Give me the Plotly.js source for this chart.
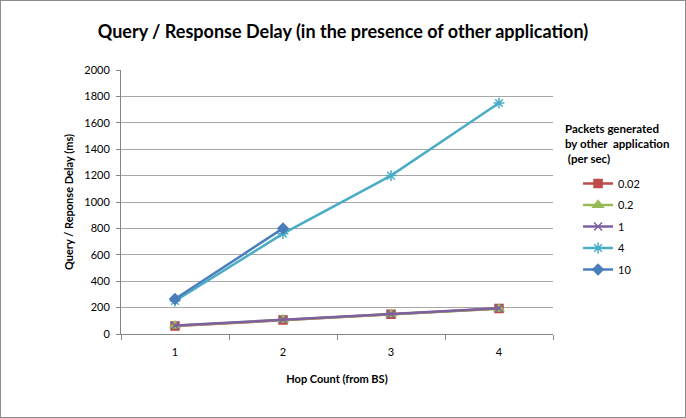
<!DOCTYPE html>
<html>
<head>
<meta charset="utf-8">
<script src="https://cdn.plot.ly/plotly-3.0.1.min.js"></script>
<style>
html,body{margin:0;padding:0;background:#fff;}
#chart{width:686px;height:418px;box-sizing:border-box;border:1px solid #8c8c8c;}
</style>
</head>
<body>
<div id="chart"></div>
<script>
const hopCounts = ['1', '2', '3', '4'];
const seriesNames = ['0.02', '0.2', '1', '4', '10'];
const s002 = [60, 106, 150, 193];
const s02 = [62, 108, 150, 192];
const s1 = [64, 110, 152, 195];
const s4 = [250, 760, 1200, 1750];
const s10 = [265, 800];
const seriesValues = [s002, s02, s1, s4, s10];

const colors = ['#BE4B48', '#98B954', '#7D60A0', '#4BACC6', '#4A7EBB'];
const symbols = ['square', 'triangle-up', 'x-thin-open', 'asterisk-open', 'diamond'];
const sizes = [8, 9, 8, 9, 8];

const traces = seriesNames.map((name, i) => ({
  type: 'scatter',
  mode: 'lines+markers',
  name: name,
  legendgroup: 'g' + i,
  x: hopCounts.slice(0, seriesValues[i].length),
  y: seriesValues[i],
  line: {color: colors[i], width: 2.5},
  marker: {symbol: symbols[i], size: sizes[i], color: colors[i], line: {color: colors[i], width: 1.5}}
}));

const font = 'Lato, "Liberation Sans", sans-serif';

const layout = {
  width: 684, height: 416,
  margin: {l: 120, r: 132, t: 69, b: 83},
  paper_bgcolor: '#fff', plot_bgcolor: '#fff',
  font: {family: font, size: 11, color: '#000'},
  title: {
    text: '<b>Query / Response Delay (in the presence of other application)</b>',
    font: {family: font, size: 18, color: '#000'},
    x: 0.5, xanchor: 'center', y: 0.926, yref: 'container', yanchor: 'middle'
  },
  xaxis: {
    type: 'category',
    range: [-0.5, 3.5],
    autorange: false,
    tickson: 'boundaries',
    ticks: 'outside', ticklen: 5, tickcolor: '#868686',
    ticklabelstandoff: 8,
    showline: true, linecolor: '#868686', linewidth: 1,
    showgrid: false, zeroline: false,
    tickfont: {family: font, size: 11},
    title: {text: '<b>Hop Count (from BS)</b>', font: {family: font, size: 11}, standoff: 18}
  },
  yaxis: {
    range: [0, 2000], dtick: 200,
    ticks: 'outside', ticklen: 4, tickcolor: '#868686',
    ticklabelstandoff: 4,
    showline: true, linecolor: '#868686', linewidth: 1,
    showgrid: true, gridcolor: '#A6A6A6', gridwidth: 1,
    zeroline: false,
    tickfont: {family: font, size: 11},
    title: {text: '<b>Query / Reponse Delay (ms)</b>', font: {family: font, size: 11}, standoff: 8}
  },
  annotations: [{
    text: '<b>Packets generated<br>by other  application<br> (per sec)</b>',
    xref: 'paper', yref: 'paper', x: 1.022, y: 0.811, xanchor: 'left', yanchor: 'top',
    align: 'left', showarrow: false, font: {family: font, size: 11.5, color: '#000'}
  }],
  legend: {
    x: 1.058, xanchor: 'left', y: 0.625, yanchor: 'top',
    font: {family: font, size: 11},
    bgcolor: 'rgba(0,0,0,0)',
    tracegroupgap: 2.5,
    itemwidth: 30
  },
  showlegend: true
};

Plotly.newPlot('chart', traces, layout, {displayModeBar: false, staticPlot: true});
</script>
</body>
</html>
